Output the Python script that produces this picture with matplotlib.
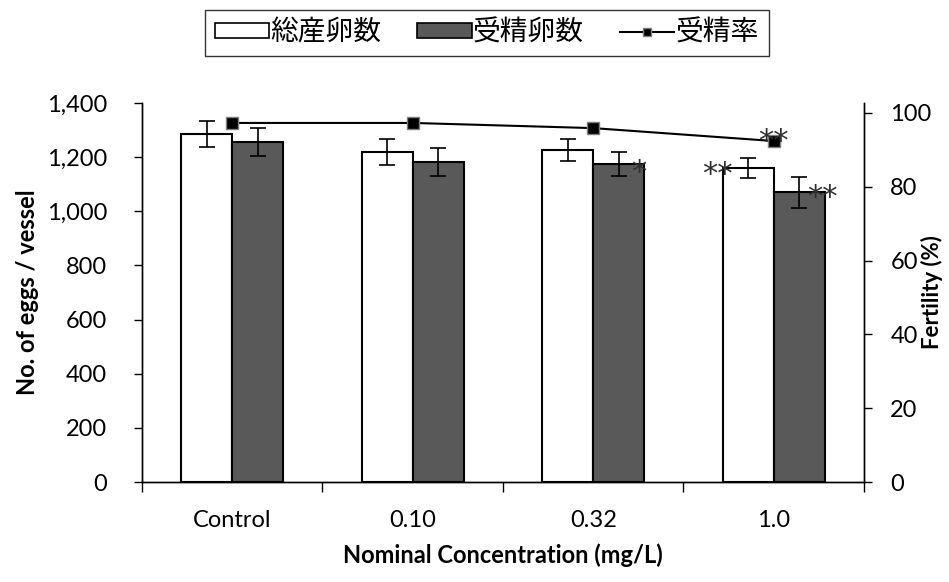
import numpy as np
import matplotlib.pyplot as plt
from matplotlib.patches import Patch
from matplotlib.lines import Line2D

plt.rcParams['font.family'] = ['Lato', 'Noto Sans CJK JP', 'DejaVu Sans']

# data
groups = ['Control', '0.10', '0.32', '1.0']
total_eggs = [1285, 1219, 1226, 1160]
total_err = [48, 48, 41, 37]
fert_eggs = [1256, 1182, 1175, 1071]
fert_err = [52, 52, 44, 57]
fert_rate = [97.3, 97.3, 95.9, 92.4]
rate_err = [0.3, 0.3, 0.9, 1.0]

x = np.arange(len(groups))
w = 0.283
dark = '#595959'

fig = plt.figure(figsize=(9.49, 5.82), dpi=100)
ax = fig.add_axes([0.1496, 0.1718, 0.7608, 0.6512])
ax2 = ax.twinx()

ax.bar(x - w/2, total_eggs, w, color='white', edgecolor='black', linewidth=1.5, zorder=2)
ax.bar(x + w/2, fert_eggs, w, color=dark, edgecolor='black', linewidth=1.5, zorder=2)
ax.errorbar(x - w/2, total_eggs, yerr=total_err, fmt='none', ecolor='black',
            elinewidth=1.2, capsize=6, capthick=1.2, zorder=3)
ax.errorbar(x + w/2, fert_eggs, yerr=fert_err, fmt='none', ecolor='black',
            elinewidth=1.2, capsize=6, capthick=1.2, zorder=3)

ax2.errorbar(x, fert_rate, yerr=rate_err, color='black', lw=1.5, marker='s',
             markersize=8, markerfacecolor='black', markeredgecolor='#7f7f7f',
             markeredgewidth=1, ecolor='black', elinewidth=1, capsize=3, zorder=4)

ax.set_xlim(-0.5, 3.5)
ax.set_ylim(0, 1400)
ax2.set_ylim(0, 102.7)
ax.set_yticks(np.arange(0, 1401, 200))
ax.set_yticklabels(['{:,}'.format(v) for v in range(0, 1401, 200)])
ax2.set_yticks(np.arange(0, 101, 20))

ax.set_xticks(x)
ax.set_xticklabels(groups)
ax.set_xticks(np.arange(-0.5, 4, 1), minor=True)
ax.tick_params(axis='x', which='major', length=0, pad=20, labelsize=17)
ax.tick_params(axis='x', which='minor', length=7, direction='out', width=1)
ax.tick_params(axis='y', length=6, width=1, labelsize=17, pad=19)
ax2.tick_params(axis='y', length=6, width=1, labelsize=17, pad=13)

for a in (ax, ax2):
    a.spines['top'].set_visible(False)
    for s in ('left', 'right', 'bottom'):
        a.spines[s].set_linewidth(1)

ax.set_xlabel('Nominal Concentration (mg/L)', fontsize=17, fontweight='bold', labelpad=9)
ax.set_ylabel('No. of eggs / vessel', fontsize=17, fontweight='bold', labelpad=6)
ax2.set_ylabel('Fertility (%)', fontsize=16, fontweight='bold', va='center')
ax2.yaxis.set_label_coords(1.094, 0.5)

# significance marks
star = dict(fontsize=22, color='#303030', ha='center', va='center', zorder=5,
            family='DejaVu Sans')
ax.text(x[2] + 0.25, 1145, '*', **star)
ax.text(x[3] - 0.31, 1135, '**', **star)
ax.text(x[3] + 0.27, 1050, '**', **star)
ax2.text(x[3], 92.2, '**', **star)

handles = [Patch(facecolor='white', edgecolor='black', linewidth=1.2),
           Patch(facecolor=dark, edgecolor='black', linewidth=1.2),
           Line2D([], [], color='black', lw=1.5, marker='s', markersize=6,
                  markerfacecolor='black', markeredgecolor='#7f7f7f')]
leg = fig.legend(handles, ['総産卵数', '受精卵数', '受精率'], loc='upper center',
                 bbox_to_anchor=(0.513, 0.983), ncol=3, fontsize=20, frameon=True,
                 fancybox=False, edgecolor='black', handlelength=1.95, handleheight=0.45,
                 handletextpad=0.05, columnspacing=1.3, borderpad=0.35, borderaxespad=0)
leg.get_frame().set_linewidth(1)

fig.savefig('out.png', dpi=100)
